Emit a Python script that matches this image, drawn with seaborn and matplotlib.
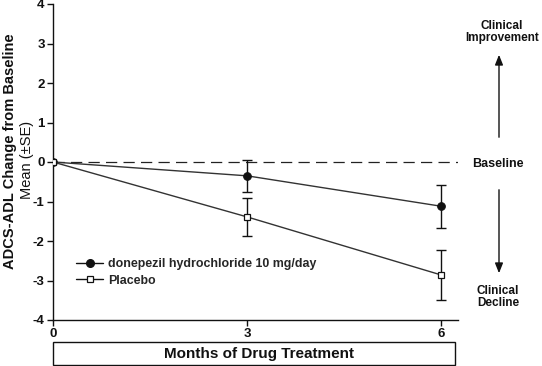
import matplotlib.pyplot as plt
import pandas as pd
import seaborn as sns
from matplotlib.patches import Rectangle

# values
months = [0, 3, 6]
donepezil_mean = [0.0, -0.35, -1.12]
donepezil_se = [0.0, 0.40, 0.55]
placebo_mean = [0.0, -1.39, -2.86]
placebo_se = [0.0, 0.49, 0.63]
donepezil_label = "donepezil hydrochloride 10 mg/day"
placebo_label = "Placebo"

sns.set_theme(style="ticks")
plt.rcParams['font.family'] = ['Liberation Sans', 'DejaVu Sans']
plt.rcParams['axes.unicode_minus'] = False

data = pd.DataFrame({
    'month': months * 2,
    'change': donepezil_mean + placebo_mean,
    'group': [donepezil_label] * 3 + [placebo_label] * 3,
})

fig = plt.figure(figsize=(5.42, 3.66), dpi=100)
ax = fig.add_axes([53 / 542, 46 / 366, 405 / 542, 316 / 366])

line_col = '#333333'
# baseline
ax.axhline(0, color='#222222', lw=0.9, ls=(0, (9, 5)), zorder=1)

# error bars (SE)
for mean, se in [(donepezil_mean, donepezil_se), (placebo_mean, placebo_se)]:
    ax.errorbar(months[1:], mean[1:], yerr=se[1:], fmt='none', ecolor='#111111',
                elinewidth=1, capsize=3.5, capthick=1, zorder=2)

sns.lineplot(data=data, x='month', y='change', hue='group', style='group',
             palette={donepezil_label: line_col, placebo_label: line_col},
             markers={donepezil_label: 'o', placebo_label: 's'},
             dashes=False, lw=1, ax=ax, zorder=3, legend=False)
ax.lines[-2].set(markerfacecolor='#111111', markeredgecolor='#111111', markersize=5.5)
ax.lines[-1].set(markerfacecolor='white', markeredgecolor='#111111', markersize=5, markeredgewidth=0.9)

# legend
h1 = plt.Line2D([], [], color='#111111', lw=1, marker='o', markersize=5.5,
                markerfacecolor='#111111')
h2 = plt.Line2D([], [], color='#111111', lw=1, marker='s', markersize=5,
                markerfacecolor='white', markeredgewidth=0.9)
ax.legend([h1, h2], [donepezil_label, placebo_label], loc='lower left',
          bbox_to_anchor=(0.03, 0.07), frameon=False, handlelength=2.2,
          handletextpad=0.35, labelspacing=0.35, prop={'weight': 'bold', 'size': 8.9})

ax.set_xlim(0, 6.26)
ax.set_ylim(-4, 4)
ax.set_xticks(months)
ax.set_yticks(range(-4, 5))
ax.set_xlabel('')
ax.set_ylabel('')
ax.tick_params(labelsize=9.5, length=4, width=1, colors='#111111', pad=2)
for t in ax.get_xticklabels() + ax.get_yticklabels():
    t.set_fontweight('bold')
sns.despine(ax=ax)
for s in ['left', 'bottom']:
    ax.spines[s].set_linewidth(1)
    ax.spines[s].set_color('#111111')

# y label
fig.text(10 / 542, 1 - 151 / 366, 'ADCS-ADL Change from Baseline', rotation=90,
         ha='center', va='center', fontsize=10.5, fontweight='bold', color='#111111')
fig.text(27 / 542, 1 - 160 / 366, 'Mean (±SE)', rotation=90,
         ha='center', va='center', fontsize=10.5, color='#111111')

# boxed x label
fig.patches.append(Rectangle((53 / 542, 1 - 365 / 366), 402 / 542, 23 / 366,
                             transform=fig.transFigure, fill=False,
                             edgecolor='#111111', lw=1))
fig.text(259 / 542, 1 - 354 / 366, 'Months of Drug Treatment', ha='center',
         va='center', fontsize=11, fontweight='bold', color='#111111')

# right side annotations
fig.text(502 / 542, 1 - 32 / 366, 'Clinical\nImprovement', ha='center', va='center',
         fontsize=8.5, fontweight='bold', linespacing=1.1, color='#111111')
fig.text(498 / 542, 1 - 164 / 366, 'Baseline', ha='center', va='center',
         fontsize=9, fontweight='bold', color='#111111')
fig.text(498 / 542, 1 - 297 / 366, 'Clinical\nDecline', ha='center', va='center',
         fontsize=8.5, fontweight='bold', linespacing=1.1, color='#111111')
arrow = dict(arrowstyle='-|>,head_length=0.5,head_width=0.2', color='#111111', lw=1)
ax.annotate('', xy=(499 / 542, 1 - 52 / 366), xytext=(499 / 542, 1 - 140 / 366),
            xycoords='figure fraction', textcoords='figure fraction',
            arrowprops=arrow, annotation_clip=False)
ax.annotate('', xy=(499 / 542, 1 - 276 / 366), xytext=(499 / 542, 1 - 187 / 366),
            xycoords='figure fraction', textcoords='figure fraction',
            arrowprops=arrow, annotation_clip=False)

fig.savefig('out.png', dpi=100, facecolor='white')
